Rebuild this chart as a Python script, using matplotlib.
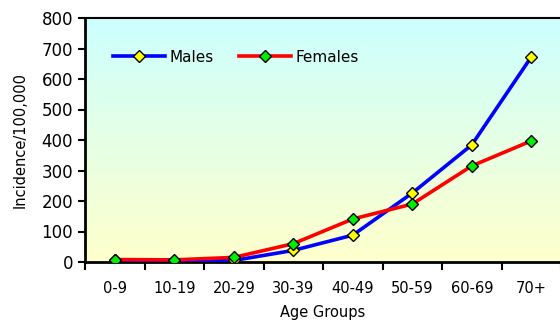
import numpy as np
import matplotlib
matplotlib.use("Agg")
from matplotlib import pyplot as plt
from matplotlib.colors import LinearSegmentedColormap

age_groups = ["0-9", "10-19", "20-29", "30-39", "40-49", "50-59", "60-69", "70+"]
males = [8, 0, 5, 38, 88, 226, 384, 672]
females = [8, 7, 15, 60, 141, 190, 315, 397]
y_ticks = [0, 100, 200, 300, 400, 500, 600, 700, 800]

plt.rcParams["font.family"] = ["DejaVu Sans"]

fig = plt.figure(figsize=(5.6, 3.22), dpi=100)
ax = fig.add_axes([85 / 560, 60 / 322, 476 / 560, 244 / 322])

x = np.arange(len(age_groups)) + 0.5

# background gradient cyan -> pale yellow
cmap = LinearSegmentedColormap.from_list("bg", ["#ffffcc", "#ccffff"])
grad = np.linspace(0, 1, 256).reshape(-1, 1)
ax.imshow(grad, cmap=cmap, aspect="auto", origin="lower",
          extent=[0, len(age_groups), 0, 800], zorder=0)

ax.plot(x, males, color="#0000ff", lw=2.6, marker="D", ms=6,
        mfc="#ffff00", mec="black", mew=1, label="Males", zorder=3)
ax.plot(x, females, color="#ff0000", lw=2.6, marker="D", ms=6,
        mfc="#00ee00", mec="black", mew=1, label="Females", zorder=3)

ax.set_xlim(0, len(age_groups))
ax.set_ylim(0, 800)
ax.set_yticks(y_ticks)
ax.tick_params(axis="y", labelsize=12, length=5, width=1.5, direction="out")
ax.set_xticks(np.arange(len(age_groups) + 1))
ax.set_xticklabels([])
ax.set_xticks(x, minor=True)
ax.set_xticklabels(age_groups, minor=True, fontsize=10.5)
ax.tick_params(axis="x", which="major", length=6, width=1.5, direction="out")
ax.tick_params(axis="x", which="minor", length=0, pad=14)

for s in ["left", "bottom"]:
    ax.spines[s].set_linewidth(2)
ax.spines["top"].set_linewidth(1.5)
ax.spines["right"].set_visible(False)

ax.set_xlabel("Age Groups", fontsize=10.5, labelpad=6)
ax.set_ylabel("Incidence/100,000", fontsize=10.5, labelpad=10)

ax.legend(loc="center left", bbox_to_anchor=(0.058, 0.84), frameon=False,
          ncol=2, fontsize=11, handlelength=3.4, handletextpad=0.3,
          columnspacing=1.7, borderaxespad=0, borderpad=0)

plt.savefig("out.png", dpi=100)
